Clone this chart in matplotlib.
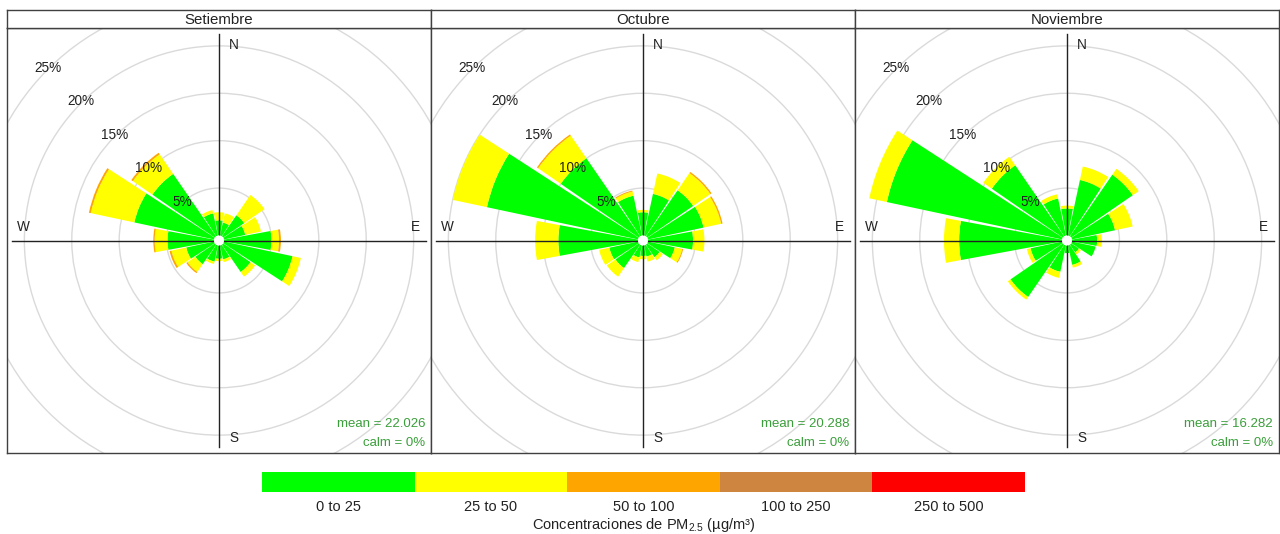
import numpy as np
import matplotlib
matplotlib.use("Agg")
from matplotlib import pyplot as plt
from matplotlib.patches import Wedge, Circle

plt.rcParams['font.family'] = ['Liberation Sans', 'DejaVu Sans']
plt.rcParams['mathtext.default'] = 'regular'

# wind directions (degrees from north, clockwise), 16 sectors
directions = np.arange(0, 360, 22.5)

months = ["Setiembre", "Octubre", "Noviembre"]
means = [22.026, 20.288, 16.282]
calms = [0, 0, 0]

# frequency (%) of each concentration band per sector
# order: N, NNE, NE, ENE, E, ESE, SE, SSE, S, SSW, SW, WSW, W, WNW, NW, NNW
sep_green = [1.6, 1.4, 2.7, 2.3, 5.0, 7.4, 3.5, 1.5, 1.4, 1.75, 2.5, 3.0, 4.9, 8.6, 8.0, 2.4]
sep_yellow = [0.85, 1.0, 2.6, 1.7, 0.8, 0.9, 0.6, 0.3, 0.25, 0.25, 1.0, 1.6, 1.35, 4.7, 2.5, 0.35]
sep_orange = [0, 0, 0, 0, 0.2, 0, 0, 0, 0, 0, 0.15, 0.2, 0.15, 0.2, 0.2, 0]

oct_green = [2.45, 4.5, 5.9, 6.0, 4.75, 2.9, 1.6, 1.2, 1.1, 1.3, 3.0, 3.1, 8.4, 16.3, 10.0, 4.3]
oct_yellow = [0.25, 2.2, 2.2, 1.9, 1.2, 0.8, 0.4, 0.55, 0.35, 0.5, 1.1, 1.1, 2.45, 3.7, 2.9, 0.45]
oct_orange = [0, 0, 0.15, 0.15, 0, 0.1, 0, 0, 0, 0, 0, 0, 0, 0, 0.15, 0.1]

nov_green = [2.85, 6.0, 7.9, 4.65, 2.65, 2.55, 1.0, 2.1, 0.8, 2.85, 6.7, 3.4, 10.85, 18.9, 9.1, 4.0]
nov_yellow = [0.3, 1.45, 0.75, 1.9, 0.5, 0.0, 0.25, 0.3, 0.0, 0.65, 0.35, 0.4, 1.6, 1.9, 1.1, 0.45]
nov_orange = [0] * 16

no_data = [0] * 16

month_bands = [
    [sep_green, sep_yellow, sep_orange, no_data, no_data],
    [oct_green, oct_yellow, oct_orange, no_data, no_data],
    [nov_green, nov_yellow, nov_orange, no_data, no_data],
]

band_labels = ["0 to 25", "25 to 50", "50 to 100", "100 to 250", "250 to 500"]
band_colors = ["#00FF00", "#FFFF00", "#FFA500", "#CD853F", "#FF0000"]

grid_levels = [5, 10, 15, 20, 25]

W, H = 1280, 534
px_per_pct = 9.48   # pixels per 1 % of frequency
offset = 0.53       # hole in the middle, in % units
half_gap = 0.8      # angular gap between sectors (deg, each side)
frame_col = "#404040"
text_green = "#3a9e3a"

fig = plt.figure(figsize=(W / 100, H / 100), dpi=100)

panel_x = [7, 431, 855]
panel_w = 424
panel_top, panel_bottom, strip_top = 28, 453, 10


def draw_rose(ax, bands, mean, calm):
    hw = 22.5 / 2 - half_gap
    cum = np.zeros(len(directions))
    for vals, col in zip(bands, band_colors):
        vals = np.asarray(vals, dtype=float)
        for d, c0, v in zip(directions, cum, vals):
            if v <= 0:
                continue
            th = 90 - d
            ax.add_patch(Wedge((0, 0), offset + c0 + v, th - hw, th + hw,
                               width=v, facecolor=col, edgecolor="none", zorder=2))
        cum = cum + vals

    for lev in grid_levels:
        ax.add_patch(Circle((0, 0), offset + lev, fill=False, edgecolor="#dadada",
                            linewidth=1, zorder=1))
        r = offset + lev
        ax.text(-r * np.sin(np.pi / 4), r * np.cos(np.pi / 4) + 0.15, f"{lev}%",
                ha="center", va="center", fontsize=9.8, color="#222222", zorder=5)

    L = 21.8
    ax.plot([0, 0], [-L, L], color="#222222", lw=1, zorder=3)
    ax.plot([-L, L], [0, 0], color="#222222", lw=1, zorder=3)
    ax.add_patch(Circle((0, 0), offset, facecolor="white", edgecolor="none", zorder=4))

    ax.text(1.6, 20.6, "N", ha="center", va="center", fontsize=9.8, color="#222222")
    ax.text(1.6, -20.8, "S", ha="center", va="center", fontsize=9.8, color="#222222")
    ax.text(20.7, 1.4, "E", ha="center", va="center", fontsize=9.8, color="#222222")
    ax.text(-20.6, 1.4, "W", ha="center", va="center", fontsize=9.8, color="#222222")

    ax.text(0.986, 0.068, f"mean = {mean:.3f}", transform=ax.transAxes,
            ha="right", va="center", fontsize=9.5, color=text_green)
    ax.text(0.986, 0.024, f"calm = {calm}%", transform=ax.transAxes,
            ha="right", va="center", fontsize=9.5, color=text_green)


for i, x0 in enumerate(panel_x):
    ph = panel_bottom - panel_top
    ax = fig.add_axes([x0 / W, (H - panel_bottom) / H, panel_w / W, ph / H])
    ax.set_xlim(-panel_w / 2 / px_per_pct, panel_w / 2 / px_per_pct)
    ax.set_ylim(-ph / 2 / px_per_pct, ph / 2 / px_per_pct)
    ax.set_xticks([])
    ax.set_yticks([])
    for s in ax.spines.values():
        s.set_color(frame_col)
        s.set_linewidth(1)
    draw_rose(ax, month_bands[i], means[i], calms[i])

    # strip with the month name
    sax = fig.add_axes([x0 / W, (H - panel_top) / H, panel_w / W, (panel_top - strip_top) / H])
    sax.set_xticks([])
    sax.set_yticks([])
    for s in sax.spines.values():
        s.set_color(frame_col)
        s.set_linewidth(1)
    sax.text(0.5, 0.45, months[i], ha="center", va="center", fontsize=10.8,
             color="#222222", transform=sax.transAxes)

# colour key
cax = fig.add_axes([262 / W, (H - 492) / H, (1025 - 262) / W, 20 / H])
cax.bar(np.arange(len(band_labels)), 1, width=1.0, color=band_colors)
cax.set_xlim(-0.5, len(band_labels) - 0.5)
cax.set_ylim(0, 1)
cax.set_yticks([])
cax.set_xticks(np.arange(len(band_labels)))
cax.set_xticklabels(band_labels, fontsize=10.5, color="#222222")
cax.tick_params(axis="x", length=0, pad=6)
for s in cax.spines.values():
    s.set_visible(False)
cax.set_xlabel("Concentraciones de PM$_{2.5}$ (µg/m³)", fontsize=10.5,
               color="#222222", labelpad=1)

fig.savefig("out.png", dpi=100, facecolor="white")
